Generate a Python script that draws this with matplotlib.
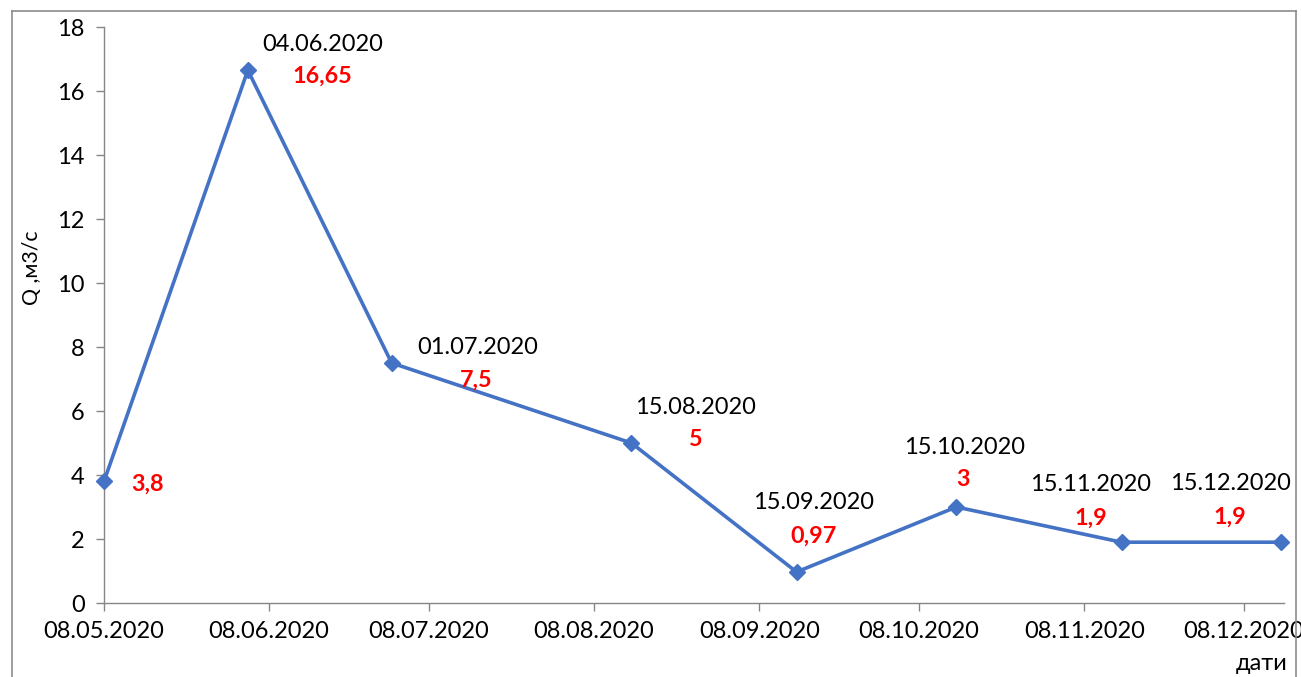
import matplotlib
matplotlib.use("Agg")
import matplotlib.pyplot as plt
from matplotlib.lines import Line2D
from datetime import datetime

plt.rcParams['font.family'] = ['Lato', 'DejaVu Sans']

dates = ["08.05.2020", "04.06.2020", "01.07.2020", "15.08.2020", "15.09.2020",
         "15.10.2020", "15.11.2020", "15.12.2020"]
values = [3.8, 16.65, 7.5, 5, 0.97, 3, 1.9, 1.9]
value_labels = ["3,8", "16,65", "7,5", "5", "0,97", "3", "1,9", "1,9"]
date_labels = ["", "04.06.2020", "01.07.2020", "15.08.2020", "15.09.2020",
               "15.10.2020", "15.11.2020", "15.12.2020"]
tick_dates = ["08.05.2020", "08.06.2020", "08.07.2020", "08.08.2020",
              "08.09.2020", "08.10.2020", "08.11.2020", "08.12.2020"]
y_ticks = [0, 2, 4, 6, 8, 10, 12, 14, 16, 18]

# label offsets in pixels (value label, date label)
val_off = [(44, -3), (75, -6), (85, -17), (64, 3), (17, 36), (7, 27), (-31, 24), (-51, 25)]
date_off = [(0, 0), (75, 26), (86, 16), (64, 35), (17, 69), (8, 60), (-31, 58), (-51, 59)]

x = [datetime.strptime(d, "%d.%m.%Y") for d in dates]
xt = [datetime.strptime(d, "%d.%m.%Y") for d in tick_dates]

fig = plt.figure(figsize=(13.01, 6.77), dpi=100)
ax = fig.add_axes([104/1301, 1-603/677, (1284-104)/1301, (603-27)/677])

ax.plot(x, values, color="#4472C4", linewidth=2.6, marker="D", markersize=8.5,
        markerfacecolor="#4472C4", markeredgecolor="#4472C4", clip_on=False, zorder=3)

for xi, yi, vl, dl, vo, do in zip(x, values, value_labels, date_labels, val_off, date_off):
    ax.annotate(vl, xy=(xi, yi), xytext=vo, textcoords="offset pixels",
                ha="center", va="center", color="#FF0000", fontsize=16.8,
                fontweight="bold", annotation_clip=False)
    if dl:
        ax.annotate(dl, xy=(xi, yi), xytext=do, textcoords="offset pixels",
                    ha="center", va="center", color="black", fontsize=17,
                    annotation_clip=False)

ax.set_xlim(datetime(2020, 5, 8), datetime(2020, 12, 15, 12))
ax.set_ylim(0, 18)
ax.set_xticks(xt)
ax.set_xticklabels(tick_dates)
ax.set_yticks(y_ticks)
ax.set_yticklabels([str(v) for v in y_ticks])

for s in ["top", "right"]:
    ax.spines[s].set_visible(False)
for s in ["left", "bottom"]:
    ax.spines[s].set_color("#868686")
    ax.spines[s].set_linewidth(1.0)
ax.tick_params(axis="both", colors="#868686", labelcolor="black", labelsize=17,
               length=6, width=1.0, direction="out")
ax.tick_params(axis="x", pad=7)
ax.tick_params(axis="y", pad=8)

fig.text(32/1301, 1-268/677, "Q ,м3/с", rotation=90, fontsize=15.3,
         ha="center", va="center")
fig.text(1262/1301, 1-663/677, "дати", fontsize=17, ha="center", va="center")

# outer frame
fc = "#8C8C8C"
fig.add_artist(Line2D([12/1301, 12/1301], [0, 1-11/677], transform=fig.transFigure, color=fc, lw=1.2))
fig.add_artist(Line2D([12/1301, 1296/1301], [1-11/677, 1-11/677], transform=fig.transFigure, color=fc, lw=1.2))
fig.add_artist(Line2D([1296/1301, 1296/1301], [0, 1-11/677], transform=fig.transFigure, color=fc, lw=1.2))

fig.savefig("out.png", dpi=100)
